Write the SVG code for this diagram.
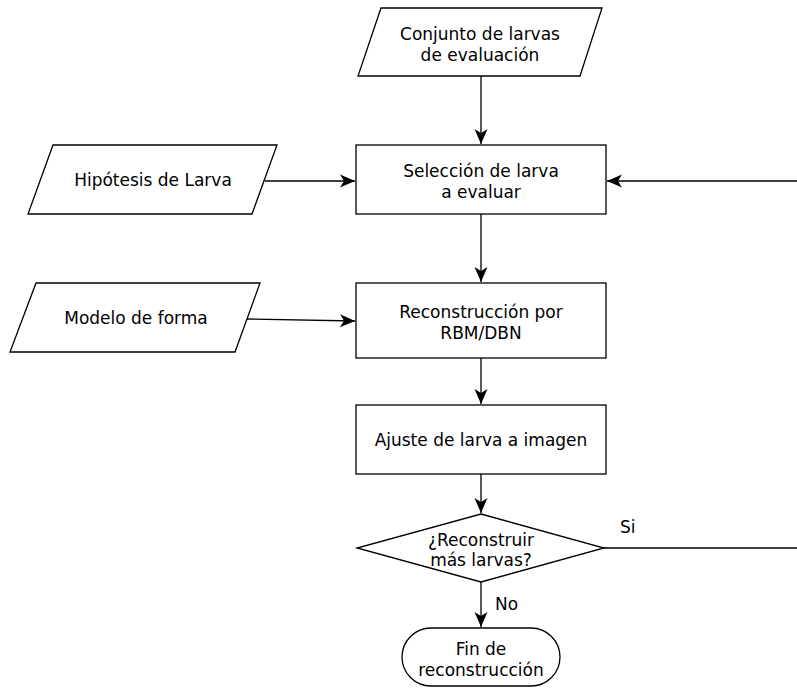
<svg xmlns="http://www.w3.org/2000/svg" width="797" height="690" viewBox="0 0 797 690">
<style>
.s{fill:#fff;stroke:#000;stroke-width:1.3}
.c{fill:none;stroke:#000;stroke-width:1.3}
text{font-family:"DejaVu Sans",Verdana,sans-serif;font-size:17px;fill:#000;text-anchor:middle}
.l{text-anchor:start}
</style>
<defs>
<marker id="a" markerUnits="userSpaceOnUse" markerWidth="16" markerHeight="14" refX="15" refY="7" orient="auto" overflow="visible">
<path d="M0,0.5 L15,7 L0,13.5 L4,7 Z" fill="#000"/>
</marker>
</defs>
<g id="connectors">
<path class="c" d="M481,76 V144" marker-end="url(#a)"/>
<path class="c" d="M265,181 H355" marker-end="url(#a)"/>
<path class="c" d="M800,548 H604 M800,548 V181 H607" marker-end="url(#a)"/>
<path class="c" d="M247,319 L355,321" marker-end="url(#a)"/>
<path class="c" d="M481,214 V282" marker-end="url(#a)"/>
<path class="c" d="M481,358 V404" marker-end="url(#a)"/>
<path class="c" d="M481,474 V513" marker-end="url(#a)"/>
<path class="c" d="M481,582 V627" marker-end="url(#a)"/>
<text class="l" x="620" y="533">Si</text>
<text class="l" x="495" y="610">No</text>
</g>
<g id="conjunto">
<path class="s" d="M381,8 H602 L580,76 H358 Z"/>
<text x="480" y="39.5">Conjunto de larvas</text>
<text x="480" y="60.5">de evaluación</text>
</g>
<g id="seleccion">
<rect class="s" x="356" y="145" width="250" height="69"/>
<text x="481" y="177">Selección de larva</text>
<text x="481" y="198">a evaluar</text>
</g>
<g id="hipotesis">
<path class="s" d="M53,145 H277 L252,214 H28 Z"/>
<text x="153" y="186">Hipótesis de Larva</text>
</g>
<g id="modelo">
<path class="s" d="M36,283 H260 L235,352 H10 Z"/>
<text x="136" y="324">Modelo de forma</text>
</g>
<g id="reconstruccion">
<rect class="s" x="356" y="283" width="250" height="75"/>
<text x="481" y="318">Reconstrucción por</text>
<text x="481" y="339">RBM/DBN</text>
</g>
<g id="ajuste">
<rect class="s" x="356" y="405" width="250" height="69"/>
<text x="481" y="446">Ajuste de larva a imagen</text>
</g>
<g id="decision">
<path class="s" d="M481,514 L604,548 L481,582 L357,548 Z"/>
<text x="481" y="545.5">¿Reconstruir</text>
<text x="481" y="566">más larvas?</text>
</g>
<g id="fin">
<rect class="s" x="402" y="628" width="158" height="58" rx="29" ry="29"/>
<text x="481" y="655">Fin de</text>
<text x="481" y="676">reconstrucción</text>
</g>
</svg>
